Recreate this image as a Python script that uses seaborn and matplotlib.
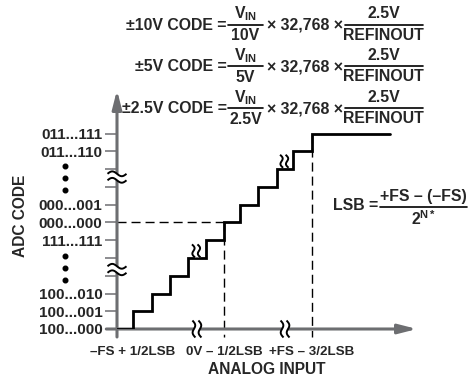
import numpy as np
import pandas as pd
import seaborn as sns
import matplotlib.pyplot as plt
from matplotlib import font_manager as fm
from matplotlib.transforms import IdentityTransform

# ADC transfer function: input step edges (in LSB units) and output code level
input_steps = [0, 0.9, 1.97, 2.98, 3.99, 5.0, 6.01, 6.91, 7.92, 8.99, 9.89, 10.96, 15.34]
code_levels = [0, 1, 2, 3, 4, 5, 6, 7, 8, 9, 10, 11, 11]

code_ticks = list(range(12))
code_labels = ['100...000', '100...001', '100...010', '', '', '111...111',
               '000...000', '000...001', '', '', '011...110', '011...111']

input_ticks = [0.9, 6.01, 10.96]
input_labels = ['\u2013FS + 1/2LSB', '0V \u2013 1/2LSB', '+FS \u2013 3/2LSB']

ranges = ['\u00b110V', '\u00b15V', '\u00b12.5V']
range_divisors = ['10V', '5V', '2.5V']

# vertical ellipsis dots beside the code axis
dots_x = -2.92
dots_y = [2.76, 3.44, 4.11, 7.83, 8.51, 9.18]

# break marks
axis_breaks_x = [4.49, 9.44]
axis_breaks_y = [3.35, 8.56]
step_breaks = [(4.45, 4.4), (9.4, 9.45)]

GRAY = '#6d6e71'
W, H = 471, 381
UX, UY = 17.8, 17.75


def bold_family():
    for name in ['Liberation Sans', 'Arimo', 'Roboto', 'Lato', 'Noto Sans',
                 'Open Sans', 'Inter', 'DejaVu Sans']:
        for f in fm.fontManager.ttflist:
            w = f.weight if isinstance(f.weight, int) else fm.weight_dict.get(f.weight, 400)
            if f.name == name and w >= 700 and f.style == 'normal':
                return name
    return 'DejaVu Sans'


sns.set_style('white')
FAMILY = bold_family()
plt.rcParams['font.family'] = [FAMILY, 'DejaVu Sans']
plt.rcParams['font.weight'] = 'bold'
plt.rcParams['mathtext.fontset'] = 'custom'
plt.rcParams['mathtext.rm'] = FAMILY + ':bold'
plt.rcParams['mathtext.bf'] = FAMILY + ':bold'
plt.rcParams['mathtext.it'] = FAMILY + ':bold'

fig = plt.figure(figsize=(4.71, 3.81), dpi=100)
ax = fig.add_axes([117 / W, 1 - 329 / H, 300 / W, 239 / H])
ax.patch.set_visible(False)
xmax, ymax = 300 / UX, 239 / UY
ax.set_xlim(0, xmax)
ax.set_ylim(0, ymax)
for s in ax.spines.values():
    s.set_visible(False)

df = pd.DataFrame({'vin': input_steps, 'code': code_levels})
sns.lineplot(data=df, x='vin', y='code', drawstyle='steps-post', color='black',
             lw=2.0, ax=ax, zorder=4, solid_joinstyle='miter')

# dashed guides
dash = (0, (6.5, 3.6))
x0 = input_steps[code_levels.index(6)]
x1 = input_steps[code_levels.index(11)]
ax.plot([0, x0], [6, 6], color='black', lw=1.0, ls=dash, zorder=3)
ax.plot([x0, x0], [6, -0.45], color='black', lw=1.0, ls=dash, zorder=3, clip_on=False)
ax.plot([x1, x1], [11, -0.45], color='black', lw=1.0, ls=dash, zorder=3, clip_on=False)

# axes with arrows
arr = dict(arrowstyle='-|>,head_length=1.1,head_width=0.28', color=GRAY, lw=2.2,
           shrinkA=0, shrinkB=0)
ax.annotate('', xy=(0, ymax), xytext=(0, -0.45), arrowprops=arr, annotation_clip=False)
ax.annotate('', xy=(xmax, 0), xytext=(-0.6, 0), arrowprops=arr, annotation_clip=False)

# ticks
ax.set_yticks(code_ticks)
ax.set_yticklabels(code_labels, fontsize=11, fontweight='bold')
ax.tick_params(axis='y', left=True, direction='out', length=8.6, width=1.1,
               color=GRAY, pad=2)
ax.set_xticks(input_ticks)
ax.set_xticklabels(input_labels, fontsize=9.6, fontweight='bold')
ax.tick_params(axis='x', bottom=True, length=0, pad=12)
ax.set_xticks([0.9], minor=True)
ax.tick_params(axis='x', which='minor', bottom=True, direction='out', length=5.8,
               width=1.1, color=GRAY)

ax.set_xlabel('ANALOG INPUT', fontsize=11.2, fontweight='bold', labelpad=3)
ax.set_ylabel('')
fig.text(21 / W, 1 - 216 / H, 'ADC CODE', rotation=90, fontsize=11.2,
         fontweight='bold', ha='center', va='center')

ax.scatter([dots_x] * len(dots_y), dots_y, s=11, color='black', clip_on=False, zorder=5)


# break marks: two short wavy strokes drawn in pixel offsets around an anchor
def wiggle(x, y, length, vertical, gap=6.0, amp=2.0, slant=0.0):
    cx, cy = ax.transData.transform((x, y))
    t = np.linspace(-0.5, 0.5, 40)
    along = t * length
    curves = []
    for off in (-gap / 2, gap / 2):
        across = amp * np.sin(2 * np.pi * t) + off + slant * t
        if vertical:
            curves.append((cx + across, cy + along))
        else:
            curves.append((cx + along, cy - across))
    (ax1, ay1), (ax2, ay2) = curves
    poly_x = np.concatenate([ax1, ax2[::-1]])
    poly_y = np.concatenate([ay1, ay2[::-1]])
    ax.fill(poly_x, poly_y, color='white', transform=IdentityTransform(),
            zorder=6, clip_on=False, lw=0)
    for px, py in curves:
        ax.plot(px, py, color='black', lw=1.4, transform=IdentityTransform(),
                zorder=7, clip_on=False, solid_capstyle='butt')


for by in axis_breaks_y:
    wiggle(0, by, 19, vertical=False, gap=6.5, amp=2.4)
for bx in axis_breaks_x:
    wiggle(bx, 0, 17, vertical=True, gap=6.0, amp=2.0, slant=-3)
for bx, by in step_breaks:
    wiggle(bx, by, 13, vertical=True, gap=5.5, amp=1.8, slant=-3)

# equations (overlay in pixel coordinates)
ov = fig.add_axes([0, 0, 1, 1])
ov.set_xlim(0, W)
ov.set_ylim(H, 0)
ov.axis('off')
ov.patch.set_visible(False)

FS = 11.4


def frac(xc, yb, w, num, den, dn=10.5, dd=10.5):
    ov.plot([xc - w / 2, xc + w / 2], [yb, yb], color='black', lw=1.2)
    ov.text(xc, yb - dn, num, fontsize=FS, ha='center', va='center', fontweight='bold')
    ov.text(xc, yb + dd, den, fontsize=FS, ha='center', va='center', fontweight='bold')


for k, (rng, div) in enumerate(zip(ranges, range_divisors)):
    yc = 24.5 + 41.75 * k
    ov.text(227, yc + 0.5, rng + ' CODE =', fontsize=FS, ha='right', va='center',
            fontweight='bold')
    frac(245.5, yc, 35, r'$\mathbf{V}_{\mathbf{IN}}$', div, dn=10.5, dd=11)
    ov.text(305, yc + 0.5, '\u00d7 32,768 \u00d7', fontsize=FS, ha='center',
            va='center', fontweight='bold')
    frac(383.5, yc, 78, '2.5V', 'REFINOUT')

ov.text(378, 206, 'LSB =', fontsize=FS, ha='right', va='center', fontweight='bold')
frac(423.5, 207, 87, '+FS \u2013 (\u2013FS)', r'$\mathbf{2}^{\mathbf{N*}}$', dn=10, dd=12)

fig.savefig('out.png', dpi=100)
